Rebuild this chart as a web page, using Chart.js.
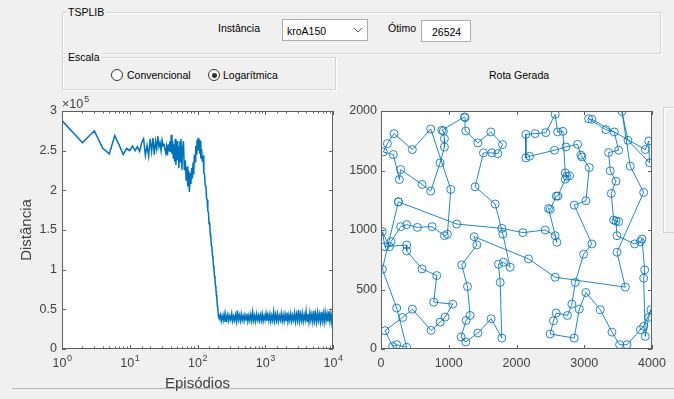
<!DOCTYPE html>
<html>
<head>
<meta charset="utf-8">
<script src="https://cdn.jsdelivr.net/npm/chart.js@4.4.1/dist/chart.umd.min.js"></script>
<style>
  html, body { margin: 0; padding: 0; }
  body { width: 674px; height: 399px; background: #f0f0f0; position: relative; overflow: hidden;
         font-family: "Liberation Sans", Arial, sans-serif; font-size: 10.5px; color: #000; }
  .abs { position: absolute; }
  .panel { position: absolute; border: 1px solid #d2d2d2; box-shadow: inset 1px 1px 0 #fff, 1px 1px 0 #fff; }
  .ptitle { position: absolute; top: -7px; left: 3px; background: #f0f0f0; padding: 0 2px; line-height: 12px; }
  .lbl { position: absolute; line-height: 12px; white-space: nowrap; }
  .box { position: absolute; background: #fff; border: 1px solid #adadad; }
  .radio { position: absolute; width: 10px; height: 10px; border: 1px solid #333; border-radius: 50%; background: #fff; }
  .radio.on::after { content: ""; position: absolute; left: 2.5px; top: 2.5px; width: 5px; height: 5px; border-radius: 50%; background: #333; }
  canvas { position: absolute; }
</style>
</head>
<body>

<div class="panel" style="left:62px;top:12px;width:597px;height:40px"><span class="ptitle">TSPLIB</span></div>
<span class="lbl" style="left:218px;top:22px">Instância</span>
<div class="box" style="left:282px;top:19px;width:84px;height:20px">
  <span class="lbl" style="left:4px;top:5px">kroA150</span>
  <svg class="abs" style="left:70px;top:6px" width="10" height="8"><polyline points="1,2 5,6 9,2" fill="none" stroke="#606060" stroke-width="1"/></svg>
</div>
<span class="lbl" style="left:388px;top:22px">Ótimo</span>
<div class="box" style="left:421px;top:20px;width:48px;height:20px"><span class="lbl" style="left:10px;top:5px">26524</span></div>

<div class="panel" style="left:62px;top:57px;width:272px;height:31px"><span class="ptitle">Escala</span></div>
<div class="radio" style="left:111px;top:69px"></div>
<span class="lbl" style="left:127px;top:69px">Convencional</span>
<div class="radio on" style="left:208px;top:69px"></div>
<span class="lbl" style="left:223px;top:69px">Logarítmica</span>

<span class="lbl" style="left:489px;top:69px">Rota Gerada</span>

<div class="abs" style="left:663px;top:107px;width:20px;height:124px;border:1px solid #d2d2d2;box-shadow:inset 1px 1px 0 #fff"></div>
<div class="abs" style="left:12px;top:388px;width:662px;height:0;border-top:1px solid #b4b4b4"></div>

<canvas id="conv" width="345" height="300" style="left:0;top:95px"></canvas>
<canvas id="rota" width="329" height="300" style="left:345px;top:95px"></canvas>

<script>
// convergence curve: episode -> tour length
const episodes = [
  1, 2, 3, 4, 5, 6, 7, 8, 9, 10, 11, 12, 13, 14, 15, 16, 17, 18, 19, 20,
  21, 22, 23, 24, 25, 26, 27, 28, 29, 30, 31, 32, 33, 34, 35, 36, 37, 38, 39, 40,
  41, 42, 43, 44, 45, 46, 47, 48, 49, 50, 51, 52, 53, 54, 55, 56, 57, 58, 59, 60,
  62, 64, 66, 68, 70, 72, 74, 76, 78, 80, 82, 84, 86, 88, 90, 92, 94, 96, 98, 100,
  102, 104, 106, 108, 110, 112, 115, 118, 121, 124, 127, 130, 133, 136, 139, 142, 145, 148, 151, 154,
  157, 160, 163, 166, 169, 172, 175, 178, 181, 184, 187, 190, 193, 196, 199, 202, 205,
  210, 217, 224, 231, 239, 247, 255, 263, 272, 281, 290, 300, 310, 320, 330, 341, 352, 364, 376, 388,
  401, 414, 428, 442, 456, 471, 487, 503, 520, 537, 554, 573, 592, 611, 631, 652, 673, 696, 718, 742,
  767, 792, 818, 845, 873, 901, 931, 962, 993, 1026, 1060, 1095, 1131, 1168, 1206, 1246, 1287, 1329, 1373, 1419,
  1465, 1514, 1563, 1615, 1668, 1723, 1780, 1838, 1899, 1961, 2026, 2093, 2162, 2233, 2306, 2382, 2461, 2542, 2626, 2712,
  2802, 2894, 2989, 3088, 3189, 3294, 3403, 3515, 3631, 3751, 3874, 4002, 4134, 4270, 4411, 4556, 4706, 4861, 5022, 5187,
  5358, 5535, 5717, 5906, 6100, 6301, 6509, 6724, 6945, 7174, 7411, 7655, 7907, 8168, 8437, 8715, 9002, 9299, 9605, 9922,
  10000
];
const distances = [
  288000, 260000, 275000, 253000, 246000, 269000, 257000, 245000, 253000, 250000,
  256000, 250000, 255000, 249000, 260000, 265000, 244000, 257000, 243000, 265000,
  249000, 266000, 245000, 262000, 252000, 268000, 255000, 260000, 250000, 263000,
  256000, 259000, 252000, 247000, 255000, 244000, 258000, 250000, 262000, 248000,
  270000, 246000, 262000, 240000, 258000, 236000, 265000, 232000, 250000, 262000,
  238000, 256000, 228000, 248000, 262000, 236000, 265000, 242000, 226000, 250000,
  262000, 225000, 238000, 212000, 230000, 205000, 225000, 198000, 222000, 208000,
  228000, 215000, 235000, 220000, 245000, 236000, 256000, 246000, 263000, 252000,
  266000, 250000, 264000, 246000, 262000, 240000, 252000, 236000, 244000, 222000,
  220000, 206000, 205000, 190000, 188000, 174000, 172000, 158000, 160000, 145000,
  142000, 130000, 129000, 118000, 115000, 105000, 100000, 92000, 88000, 80000,
  76000, 68000, 64000, 55000, 52000, 44000, 40000,
  38000, 43000, 35500, 42000, 36000, 44000, 35000, 42500, 36500, 43500,
  35500, 42000, 37000, 44500, 35500, 41500, 36000, 43000, 35000, 48500,
  36500, 42500, 35500, 44000, 36000, 42000, 35500, 43000, 36500, 44500,
  35000, 42500, 36000, 43500, 35500, 46500, 36000, 42000, 35000, 44000,
  36500, 42500, 35500, 43000, 36000, 44500, 35000, 42000, 36500, 45000,
  35500, 43000, 36000, 44000, 35000, 42500, 36000, 47000, 35500, 43500,
  36000, 44500, 35000, 42000, 36500, 45000, 35500, 43000, 35000, 44000,
  36000, 46000, 34500, 43000, 36000, 44500, 35000, 42500, 36500, 45500,
  34500, 43500, 36000, 49000, 35000, 44000, 36000, 45000, 34500, 43000,
  36500, 47500, 35000, 44000, 34000, 45500, 36000, 43500, 34500, 48000,
  35500, 44500, 34000, 46000, 36000, 44000, 34500, 47000, 35500, 45000,
  34000, 46500, 36000, 44500, 34500, 47500, 35000, 45000, 34000, 46000,
  36000
];

// generated tour, city coordinates in visiting order
const routeX = [
  256, 1118, 1783, 2094, 2424, 2571, 2596, 2473, 2498, 2586, 2611, 2719, 2783, 2743, 2719, 2685, 2606, 2571, 2433, 2276,
  2138, 2138, 2192, 2561, 2729, 2901, 2951, 2965, 3074, 3025, 2852, 3113, 2990, 2867, 2817, 2753, 2586, 2546, 2497, 2852,
  2926, 3025, 3237, 3409, 3522, 3631, 3828, 3877, 3985, 3950, 3901, 3877, 3892, 3852, 3828, 3744, 3483, 3468, 3507, 3433,
  3399, 3468, 3384, 3359, 3507, 3443, 3320, 3064, 3113, 3901, 3951, 3965, 3645, 3556, 3679, 3877, 3483, 3606, 2571, 2177,
  1374, 1414, 1192, 1276, 1315, 1256, 1182, 1251, 1429, 1626, 1783, 1759, 1734, 1808, 1906, 1798, 1685, 1389, 1512, 1635,
  1724, 1793, 1621, 1429, 1251, 1241, 1232, 897, 921, 936, 936, 872, 734, 606, 291, 271, 182, 34, 94, 192,
  463, 734, 1030, 980, 936, 754, 537, 379, 291, 148, 123, 20, 59, 379, 379, 606, 823, 778, 1059, 946,
  872, 739, 463, 320, 59, 172, 232, 379, 232, 20
];
const routeY = [
  1237, 1050, 1014, 978, 1000, 952, 897, 1181, 1173, 1285, 1285, 1427, 1455, 1452, 1480, 1829, 1824, 1972, 1818, 1810,
  1804, 1606, 1620, 1670, 1698, 1720, 1628, 1614, 1525, 1246, 1209, 883, 796, 559, 377, 282, 302, 237, 126, 92,
  335, 475, 330, 142, 36, 36, 162, 190, 330, 265, 106, 595, 665, 924, 902, 883, 952, 1075, 1070, 1084,
  1307, 1410, 1497, 1651, 1670, 1824, 1843, 1935, 1930, 1676, 1748, 1564, 1754, 1997, 1536, 1316, 813, 520, 603, 757,
  944, 874, 707, 525, 282, 240, 101, 59, 134, 254, 92, 559, 712, 729, 687, 966, 1218, 1363, 1648, 1648,
  1642, 1718, 1824, 1732, 1832, 1944, 1950, 1838, 1832, 1768, 1698, 1564, 1327, 1383, 1508, 1424, 1634, 1656, 1726, 1810,
  1676, 1849, 1341, 964, 952, 1028, 1022, 1045, 1028, 902, 860, 986, 860, 874, 824, 673, 617, 394, 377, 268,
  226, 156, 335, 265, 154, 22, 36, 14, 344, 670
];

const BLUE = '#0072BD';
const TXT = '#404040';
const FONT = 'Liberation Sans, Arial, sans-serif';

function isPow10(v) {
  const l = Math.log10(v);
  return Math.abs(l - Math.round(l)) < 1e-9;
}

// white axes background, box and inward tick marks like MATLAB axes
const matlabAxes = {
  id: 'matlabAxes',
  beforeDraw(chart) {
    const {ctx, chartArea: a} = chart;
    ctx.save();
    ctx.fillStyle = '#fff';
    ctx.fillRect(a.left, a.top, a.right - a.left, a.bottom - a.top);
    ctx.restore();
  },
  afterDraw(chart, args, opts) {
    const {ctx, chartArea: a} = chart;
    const xs = chart.scales.x, ys = chart.scales.y;
    ctx.save();
    ctx.strokeStyle = '#5e5e5e';
    ctx.lineWidth = 1;
    ctx.strokeRect(a.left + 0.5, a.top + 0.5, a.right - a.left - 1, a.bottom - a.top - 1);
    ctx.beginPath();
    xs.ticks.forEach(t => {
      const len = (!opts.logX || isPow10(t.value)) ? 4 : 2.5;
      const px = Math.round(xs.getPixelForValue(t.value)) + 0.5;
      ctx.moveTo(px, a.bottom); ctx.lineTo(px, a.bottom - len);
      ctx.moveTo(px, a.top); ctx.lineTo(px, a.top + len);
    });
    ys.ticks.forEach(t => {
      const py = Math.round(ys.getPixelForValue(t.value)) + 0.5;
      ctx.moveTo(a.left, py); ctx.lineTo(a.left + 4, py);
      ctx.moveTo(a.right, py); ctx.lineTo(a.right - 4, py);
    });
    ctx.stroke();
    ctx.fillStyle = TXT;
    ctx.textBaseline = 'alphabetic';
    // decade labels 10^k under the log axis
    if (opts.logX) {
      xs.ticks.filter(t => isPow10(t.value)).forEach(t => {
        const e = String(Math.round(Math.log10(t.value)));
        ctx.font = '12.5px ' + FONT;
        const w1 = ctx.measureText('10').width;
        ctx.font = '9px ' + FONT;
        const w2 = ctx.measureText(e).width;
        const x0 = xs.getPixelForValue(t.value) - (w1 + w2) / 2;
        ctx.font = '12.5px ' + FONT;
        ctx.fillText('10', x0, a.bottom + 18);
        ctx.font = '9px ' + FONT;
        ctx.fillText(e, x0 + w1 + 0.5, a.bottom + 12);
      });
    }
    if (opts.exponent) {
      ctx.font = '12.5px ' + FONT;
      ctx.fillText('×10', a.left, a.top - 3);
      const w = ctx.measureText('×10').width;
      ctx.font = '9px ' + FONT;
      ctx.fillText(opts.exponent, a.left + w + 1, a.top - 9);
    }
    ctx.restore();
  }
};

const tickFont = {family: FONT, size: 12.5};
const titleFont = {family: FONT, size: 15};

new Chart(document.getElementById('conv'), {
  type: 'line',
  data: {
    datasets: [{
      data: episodes.map((e, i) => ({x: e, y: distances[i]})),
      borderColor: BLUE,
      borderWidth: 1.5,
      pointRadius: 0,
      tension: 0
    }]
  },
  options: {
    responsive: false,
    animation: false,
    devicePixelRatio: 1,
    layout: {padding: {top: 16, right: 12, left: 0, bottom: 0}},
    plugins: {
      legend: {display: false},
      tooltip: {enabled: false},
      matlabAxes: {logX: true, exponent: '5'}
    },
    scales: {
      x: {
        type: 'logarithmic', min: 1, max: 10000,
        grid: {display: false, drawTicks: false},
        border: {display: false},
        ticks: {autoSkip: false, maxRotation: 0, padding: 4, color: TXT, font: tickFont, callback: () => ''},
        title: {display: true, text: 'Episódios', color: TXT, font: titleFont, padding: {top: 0, bottom: 2}},
        afterFit(s) { s.height = 46; }
      },
      y: {
        min: 0, max: 300000,
        grid: {display: false, drawTicks: false},
        border: {display: false},
        ticks: {stepSize: 50000, padding: 5, color: TXT, font: tickFont, callback: v => String(v / 1e5)},
        title: {display: true, text: 'Distância', color: TXT, font: titleFont, padding: {top: 18, bottom: 0}},
        afterFit(s) { s.width = 62; }
      }
    }
  },
  plugins: [matlabAxes]
});

const tour = routeX.map((x, i) => ({x: x, y: routeY[i]}));
tour.push(tour[0]);

new Chart(document.getElementById('rota'), {
  type: 'scatter',
  data: {
    datasets: [{
      data: tour,
      showLine: true,
      borderColor: 'rgba(0,114,189,0.85)',
      borderWidth: 1,
      pointStyle: 'circle',
      pointRadius: 4,
      pointBorderWidth: 1,
      pointBorderColor: 'rgba(0,114,189,0.85)',
      pointBackgroundColor: 'rgba(0,0,0,0)'
    }]
  },
  options: {
    responsive: false,
    animation: false,
    devicePixelRatio: 1,
    layout: {padding: {top: 16, right: 22, left: 0, bottom: 0}},
    plugins: {
      legend: {display: false},
      tooltip: {enabled: false},
      matlabAxes: {}
    },
    scales: {
      x: {
        type: 'linear', min: 0, max: 4000,
        grid: {display: false, drawTicks: false},
        border: {display: false},
        ticks: {stepSize: 1000, maxRotation: 0, padding: 7, color: TXT, font: tickFont, callback: v => String(v)},
        afterFit(s) { s.height = 46; }
      },
      y: {
        min: 0, max: 2000,
        grid: {display: false, drawTicks: false},
        border: {display: false},
        ticks: {stepSize: 500, padding: 4, color: TXT, font: tickFont, callback: v => String(v)},
        afterFit(s) { s.width = 36; }
      }
    }
  },
  plugins: [matlabAxes]
});
</script>
</body>
</html>
